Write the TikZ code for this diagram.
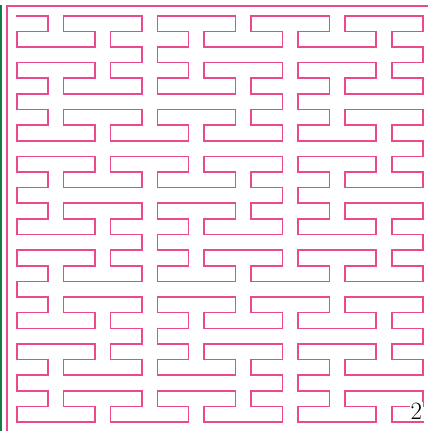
\documentclass[tikz,border=0pt]{standalone}
\definecolor{peano}{RGB}{236,72,140}
\definecolor{edgegreen}{RGB}{20,125,70}
\tikzset{
  curve/.style={draw=peano, line width=1.6pt, line join=miter, line cap=rect},
  frameline/.style={draw=peano, line width=1.8pt},
  labelbox/.style={fill=white, inner sep=0.6pt, font=\fontsize{24.88}{25}\selectfont}
}
\newcommand\rfl[2]{\ifodd\numexpr#1\relax(2-#2)\else(#2)\fi}
\begin{document}
\begin{tikzpicture}[x=1pt,y=1pt]
\useasboundingbox (0,0) rectangle (428,-431);
\fill[edgegreen] (0,-5) rectangle (2.3,-431);
\draw[frameline] (6.7,-431) -- (6.7,-6) -- (428,-6);
\gdef\pathacc{(0,0)}
\foreach \pa in {0,1,2}{\foreach \qa in {0,1,2}{\foreach \pb in {0,1,2}{\foreach \qb in {0,1,2}{\foreach \pc in {0,1,2}{\foreach \qc in {0,1,2}{%
  \ifnum\numexpr\pa+\qa+\pb+\qb+\pc+\qc\relax>0
  \xdef\pathacc{\pathacc -- (\the\numexpr 9*\rfl{\pa}{\qa}+3*\rfl{\pa+\pb}{\qb}+\rfl{\pa+\pb+\pc}{\qc}\relax,\the\numexpr 9*\pa+3*\rfl{\qa}{\pb}+\rfl{\qa+\qb}{\pc}\relax)}%
  \fi
}}}}}}
\begin{scope}[shift={(16.7pt,-15.7pt)}, x=15.63pt, y=-15.63pt]
\edef\drawcurve{\noexpand\draw[curve] \pathacc;}\drawcurve
\end{scope}
\node[labelbox] (lbl) at (416.3,-411) {2};
\end{tikzpicture}
\end{document}
